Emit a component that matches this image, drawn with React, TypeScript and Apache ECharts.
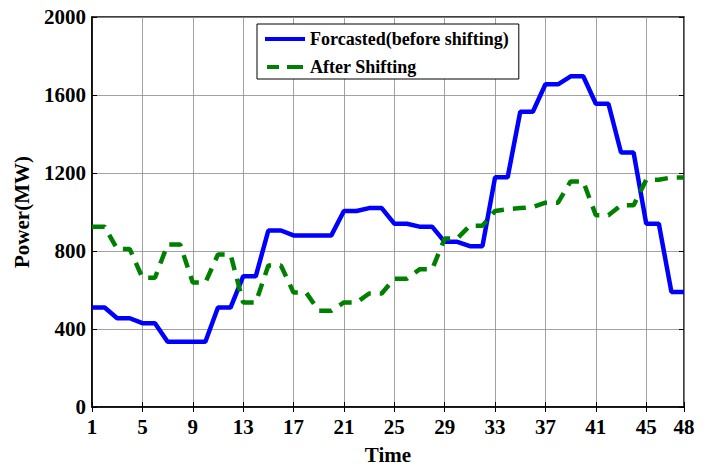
import React, { useEffect, useRef } from "react";
import * as echarts from "echarts";

const times = Array.from({ length: 48 }, (_, i) => String(i + 1));
const forecasted = [
  510, 510, 455, 455, 430, 430, 335, 335, 335, 335, 510, 510, 670, 670, 905, 905,
  880, 880, 880, 880, 1005, 1005, 1020, 1020, 940, 940, 925, 925, 847, 847, 825, 825,
  1178, 1178, 1514, 1514, 1655, 1655, 1696, 1696, 1555, 1555, 1305, 1305, 940, 940, 590, 590,
];
const afterShifting = [
  925, 925, 810, 810, 663, 663, 833, 833, 638, 638, 782, 782, 536, 536, 726, 726,
  587, 587, 493, 493, 536, 536, 582, 582, 658, 658, 706, 706, 864, 864, 930, 930,
  1005, 1015, 1020, 1025, 1048, 1048, 1157, 1157, 983, 983, 1034, 1034, 1165, 1165, 1177, 1177,
];
const seriesNames = ["Forcasted(before shifting)", "After Shifting"];

const FONT = "'Liberation Serif', 'Times New Roman', serif";

export default function App() {
  const ref = useRef<HTMLDivElement>(null);
  useEffect(() => {
    if (!ref.current) return;
    const chart = echarts.init(ref.current, null, { renderer: "svg" });
    const showIdx = (idx: number) => idx % 4 === 0 || idx === 47;
    const labelStyle = { fontFamily: FONT, fontWeight: "bold", fontSize: 21, color: "#000" };
    chart.setOption({
      animation: false,
      grid: {
        left: 92,
        right: 24,
        top: 17,
        bottom: 60,
        show: true,
        borderColor: "#000",
        borderWidth: 1.5,
        backgroundColor: "#fff",
      },
      legend: {
        left: 257,
        top: 24,
        orient: "vertical",
        padding: [5, 10, 2, 8],
        itemGap: 8,
        itemWidth: 40,
        itemHeight: 4,
        borderColor: "#000",
        borderWidth: 1,
        backgroundColor: "#fff",
        textStyle: { fontFamily: FONT, fontWeight: "bold", fontSize: 18, lineHeight: 20, color: "#000" },
        data: [
          { name: seriesNames[0], icon: "path://M0,0 L40,0 L40,4 L0,4 Z" },
          { name: seriesNames[1], icon: "path://M0,0 L12,0 L12,4 L0,4 Z M20,0 L36,0 L36,4 L20,4 Z" },
        ],
      },
      xAxis: [
        {
          type: "category",
          data: times,
          boundaryGap: false,
          name: "Time",
          nameLocation: "middle",
          nameGap: 37,
          nameTextStyle: { ...labelStyle },
          axisLine: { lineStyle: { color: "#000", width: 1.5 } },
          axisTick: { inside: true, length: 5, interval: showIdx, lineStyle: { color: "#000" } },
          axisLabel: { ...labelStyle, interval: showIdx, margin: 9 },
          splitLine: {
            show: true,
            interval: showIdx,
            lineStyle: { color: "#8a8a8a", type: "solid", width: 0.8 },
          },
        },
        {
          type: "category",
          data: times,
          boundaryGap: false,
          position: "top",
          axisLine: { show: false },
          axisTick: { inside: true, length: 5, interval: showIdx, lineStyle: { color: "#000" } },
          axisLabel: { show: false },
          splitLine: { show: false },
        },
      ],
      yAxis: [
        {
          type: "value",
          min: 0,
          max: 2000,
          interval: 400,
          name: "Power(MW)",
          nameLocation: "middle",
          nameGap: 60,
          nameTextStyle: { ...labelStyle },
          axisLine: { show: true, lineStyle: { color: "#000", width: 1.5 } },
          axisTick: { show: true, inside: true, length: 5, lineStyle: { color: "#000" } },
          axisLabel: { ...labelStyle, margin: 6, formatter: (v: number) => String(v) },
          splitLine: { show: true, lineStyle: { color: "#8a8a8a", type: "solid", width: 0.8 } },
        },
        {
          type: "value",
          min: 0,
          max: 2000,
          interval: 400,
          position: "right",
          axisLine: { show: false },
          axisTick: { show: true, inside: true, length: 5, lineStyle: { color: "#000" } },
          axisLabel: { show: false },
          splitLine: { show: false },
        },
      ],
      series: [
        {
          name: seriesNames[0],
          type: "line",
          data: forecasted,
          symbol: "none",
          lineStyle: { color: "#0000ff", width: 4.5 },
          itemStyle: { color: "#0000ff" },
          z: 3,
        },
        {
          name: seriesNames[1],
          type: "line",
          data: afterShifting,
          symbol: "none",
          lineStyle: { color: "#008000", width: 4.5, type: [13, 9] },
          itemStyle: { color: "#008000" },
          z: 4,
        },
      ],
    });
    return () => chart.dispose();
  }, []);
  return <div ref={ref} style={{ width: 708, height: 470, position: "absolute", left: 0, top: 0 }} />;
}
